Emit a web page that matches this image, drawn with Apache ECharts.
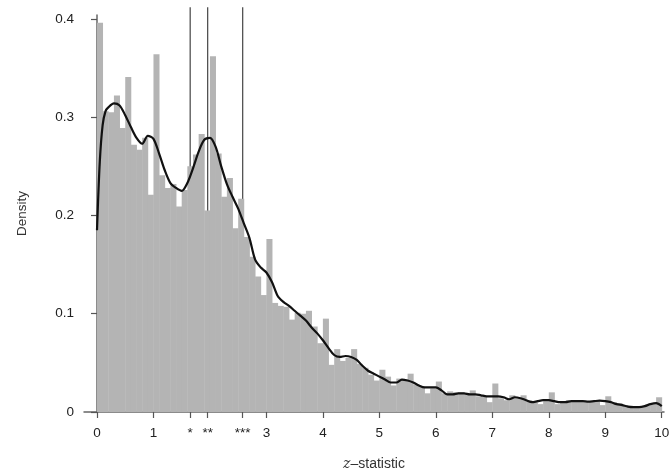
<!DOCTYPE html>
<html>
<head>
<meta charset="utf-8">
<script src="https://cdn.jsdelivr.net/npm/echarts@6/dist/echarts.min.js"></script>
<style>
  html, body { margin: 0; padding: 0; background: #fff; }
  #chart { width: 672px; height: 471px; }
</style>
</head>
<body>
<div id="chart"></div>
<script>
// Histogram of z-statistics, bins of width 0.1 from 0 to 10
const binWidth = 0.1;
const binDensity = [
  0.396, 0.306, 0.305, 0.322, 0.289, 0.341, 0.272, 0.267, 0.279, 0.221,
  0.364, 0.241, 0.228, 0.232, 0.209, 0.226, 0.250, 0.262, 0.283, 0.205,
  0.362, 0.263, 0.219, 0.238, 0.187, 0.217, 0.178, 0.158, 0.138, 0.119,
  0.176, 0.111, 0.108, 0.107, 0.094, 0.101, 0.100, 0.103, 0.087, 0.070,
  0.095, 0.048, 0.064, 0.052, 0.055, 0.064, 0.049, 0.045, 0.038, 0.032,
  0.043, 0.036, 0.027, 0.034, 0.033, 0.039, 0.028, 0.026, 0.019, 0.024,
  0.031, 0.019, 0.021, 0.020, 0.020, 0.019, 0.022, 0.016, 0.016, 0.010,
  0.029, 0.014, 0.012, 0.017, 0.014, 0.017, 0.012, 0.011, 0.008, 0.011,
  0.020, 0.008, 0.011, 0.012, 0.011, 0.011, 0.010, 0.011, 0.012, 0.007,
  0.016, 0.010, 0.009, 0.007, 0.006, 0.005, 0.006, 0.007, 0.008, 0.015
];

// Kernel density estimate
const kdeZ = [
  0, 0.05, 0.1, 0.15, 0.2, 0.3, 0.4, 0.5, 0.6, 0.7, 0.8, 0.9,
  1.0, 1.1, 1.2, 1.3, 1.4, 1.5, 1.6, 1.7, 1.8, 1.9,
  2.0, 2.1, 2.2, 2.3, 2.4, 2.5, 2.6, 2.7, 2.8, 2.9,
  3.0, 3.1, 3.2, 3.3, 3.4, 3.5, 3.6, 3.7, 3.8, 3.9,
  4.0, 4.1, 4.2, 4.3, 4.4, 4.5, 4.6, 4.7, 4.8, 4.9,
  5.0, 5.1, 5.2, 5.3, 5.4, 5.5, 5.6, 5.7, 5.8, 5.9,
  6.0, 6.1, 6.2, 6.3, 6.4, 6.5, 6.6, 6.7, 6.8, 6.9,
  7.0, 7.1, 7.2, 7.3, 7.4, 7.5, 7.6, 7.7, 7.8, 7.9,
  8.0, 8.1, 8.2, 8.3, 8.4, 8.5, 8.6, 8.7, 8.8, 8.9,
  9.0, 9.1, 9.2, 9.3, 9.4, 9.5, 9.6, 9.7, 9.8, 9.9, 10.0
];
const kdeDensity = [
  0.185, 0.255, 0.292, 0.306, 0.310, 0.314, 0.312, 0.302, 0.290, 0.279, 0.273, 0.281,
  0.278, 0.263, 0.246, 0.233, 0.228, 0.225, 0.233, 0.248, 0.265, 0.277,
  0.279, 0.270, 0.250, 0.232, 0.219, 0.207, 0.192, 0.177, 0.155, 0.147,
  0.142, 0.132, 0.118, 0.112, 0.108, 0.103, 0.098, 0.093, 0.086, 0.080,
  0.073, 0.065, 0.058, 0.056, 0.057, 0.056, 0.053, 0.047, 0.042, 0.039,
  0.036, 0.033, 0.030, 0.030, 0.033, 0.032, 0.030, 0.027, 0.025, 0.025,
  0.025, 0.022, 0.018, 0.018, 0.019, 0.019, 0.018, 0.018, 0.017, 0.016,
  0.016, 0.016, 0.015, 0.013, 0.015, 0.014, 0.012, 0.010, 0.011, 0.012,
  0.012, 0.011, 0.010, 0.010, 0.011, 0.011, 0.011, 0.0105, 0.011, 0.0115,
  0.011, 0.010, 0.008, 0.007, 0.0055, 0.005, 0.005, 0.006, 0.008, 0.009, 0.006
];

// Significance thresholds (10%, 5%, 1%)
const thresholdZ = [1.65, 1.96, 2.58];
const thresholdStars = ['*', '**', '***'];

// Integer ticks; 2 is left out, its place is taken by the star markers
const xTickValues = [0, 1, 3, 4, 5, 6, 7, 8, 9, 10];
const yTickValues = [0, 0.1, 0.2, 0.3, 0.4];

const histData = binDensity.map((d, i) => [i * binWidth, (i + 1) * binWidth, d]);
const kdeData = kdeZ.map((z, i) => [z, kdeDensity[i]]);
const thresholdData = thresholdZ.map(z => [z, 0.412]);

const xAxisTicks = xTickValues.concat(thresholdZ).sort((a, b) => a - b);

const font = 'Liberation Sans, Arial, Helvetica, sans-serif';
const chart = echarts.init(document.getElementById('chart'), null, { renderer: 'canvas' });

chart.setOption({
  animation: false,
  backgroundColor: '#ffffff',
  grid: { left: 84, right: 8, top: 15, bottom: 59, outerBoundsMode: 'none', containLabel: false },
  xAxis: {
    type: 'value',
    min: -0.23,
    max: 10.04,
    splitLine: { show: false },
    axisLine: { show: true, lineStyle: { color: '#666', width: 1.5 } },
    axisTick: { show: true, length: 6, customValues: xAxisTicks, lineStyle: { color: '#555', width: 1.2 } },
    axisLabel: {
      customValues: xAxisTicks,
      margin: 14,
      color: '#222',
      fontFamily: font,
      fontSize: 13.5,
      formatter: v => {
        const k = thresholdZ.indexOf(v);
        return k >= 0 ? thresholdStars[k] : String(v);
      }
    },
    name: '{it|z}–statistic',
    nameLocation: 'middle',
    nameGap: 45,
    nameTextStyle: {
      color: '#333',
      fontFamily: font,
      fontSize: 14,
      rich: { it: { fontStyle: 'italic', fontFamily: 'DejaVu Serif, serif', fontSize: 14, color: '#333' } }
    }
  },
  yAxis: {
    type: 'value',
    min: 0,
    max: 0.404,
    splitLine: { show: false },
    axisLine: { show: true, lineStyle: { color: '#666', width: 1.5 } },
    axisTick: { show: true, length: 6, customValues: yTickValues, lineStyle: { color: '#555', width: 1.2 } },
    axisLabel: {
      customValues: yTickValues,
      margin: 10,
      color: '#222',
      fontFamily: font,
      fontSize: 13.5,
      formatter: v => (v === 0 ? '0' : v.toFixed(1))
    },
    name: 'Density',
    nameLocation: 'middle',
    nameRotate: 90,
    nameGap: 55,
    nameTextStyle: { color: '#333', fontFamily: font, fontSize: 13.5 }
  },
  series: [
    {
      // threshold lines, drawn beneath the histogram
      type: 'custom',
      clip: false,
      z: 1,
      data: thresholdData,
      renderItem: (params, api) => {
        const bottom = api.coord([api.value(0), 0]);
        const top = api.coord([api.value(0), api.value(1)]);
        return {
          type: 'line',
          shape: { x1: bottom[0], y1: bottom[1], x2: top[0], y2: top[1] },
          style: { stroke: '#444', lineWidth: 1.2 }
        };
      }
    },
    {
      type: 'custom',
      z: 2,
      data: histData,
      renderItem: (params, api) => {
        const base = api.coord([api.value(0), 0]);
        const corner = api.coord([api.value(1), api.value(2)]);
        return {
          type: 'rect',
          shape: { x: base[0], y: corner[1], width: corner[0] - base[0] + 0.4, height: base[1] - corner[1] },
          style: { fill: '#b4b4b4' }
        };
      }
    },
    {
      type: 'line',
      z: 3,
      data: kdeData,
      smooth: 0.3,
      showSymbol: false,
      lineStyle: { color: '#111', width: 2.2 }
    }
  ]
});
</script>
</body>
</html>
